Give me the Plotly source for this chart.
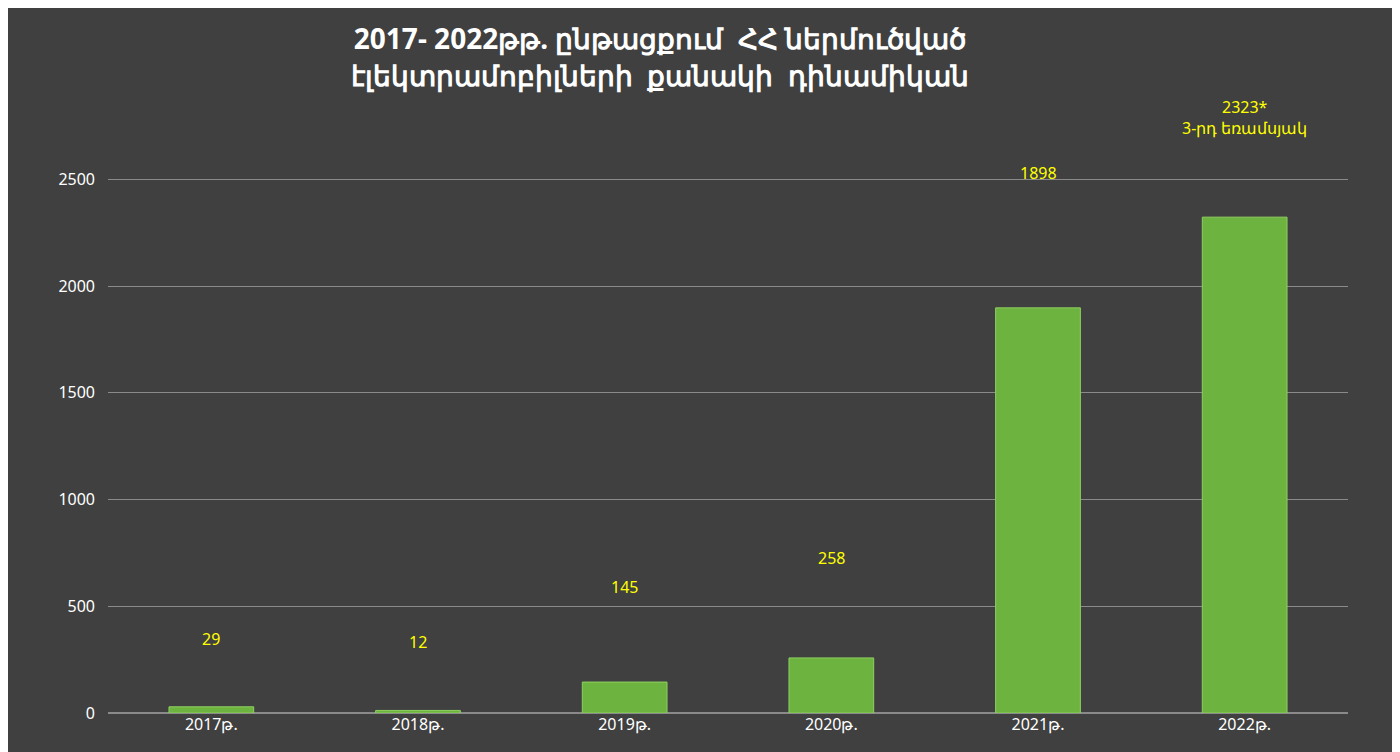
import plotly.graph_objects as go

years = ["2017թ.", "2018թ.", "2019թ.", "2020թ.", "2021թ.", "2022թ."]
values = [29, 12, 145, 258, 1898, 2323]
labels = ["29", "12", "145", "258", "1898", "2323*<br>3-րդ եռամսյակ"]
label_shift = [68, 68, 95, 100, 135, 100]

fig = go.Figure()
fig.add_trace(go.Bar(
    x=years, y=values, width=0.41,
    marker=dict(color="#6db33f", line=dict(color="#8fd060", width=1)),
    hoverinfo="skip",
))
for x, v, t, s in zip(years, values, labels, label_shift):
    fig.add_annotation(x=x, y=v, text=t, showarrow=False, yshift=s,
                       font=dict(color="#ffff00", size=16, family="Noto Sans"))

fig.update_layout(
    width=1400, height=752,
    paper_bgcolor="#404040", plot_bgcolor="#404040",
    margin=dict(l=100, r=60, t=121, b=47),
    showlegend=False,
    title=dict(text="<b>2017- 2022թթ. ընթացքում  ՀՀ ներմուծված<br>էլեկտրամոբիլների  քանակի  դինամիկան</b>",
               x=652/1400, xanchor="center", y=0.945, yanchor="top",
               font=dict(color="white", size=28, family="Noto Sans")),
    bargap=0.59,
)
fig.update_xaxes(showgrid=False, tickfont=dict(color="white", size=16, family="Noto Sans"),
                 showline=False, ticks="")
fig.update_yaxes(range=[0, 2736], tickvals=[0, 500, 1000, 1500, 2000, 2500],
                 gridcolor="#8a8a8a", gridwidth=1, zeroline=True, zerolinecolor="#8a8a8a",
                 tickfont=dict(color="white", size=16, family="Noto Sans"), ticklabelstandoff=12)
fig.write_html("out.html")
